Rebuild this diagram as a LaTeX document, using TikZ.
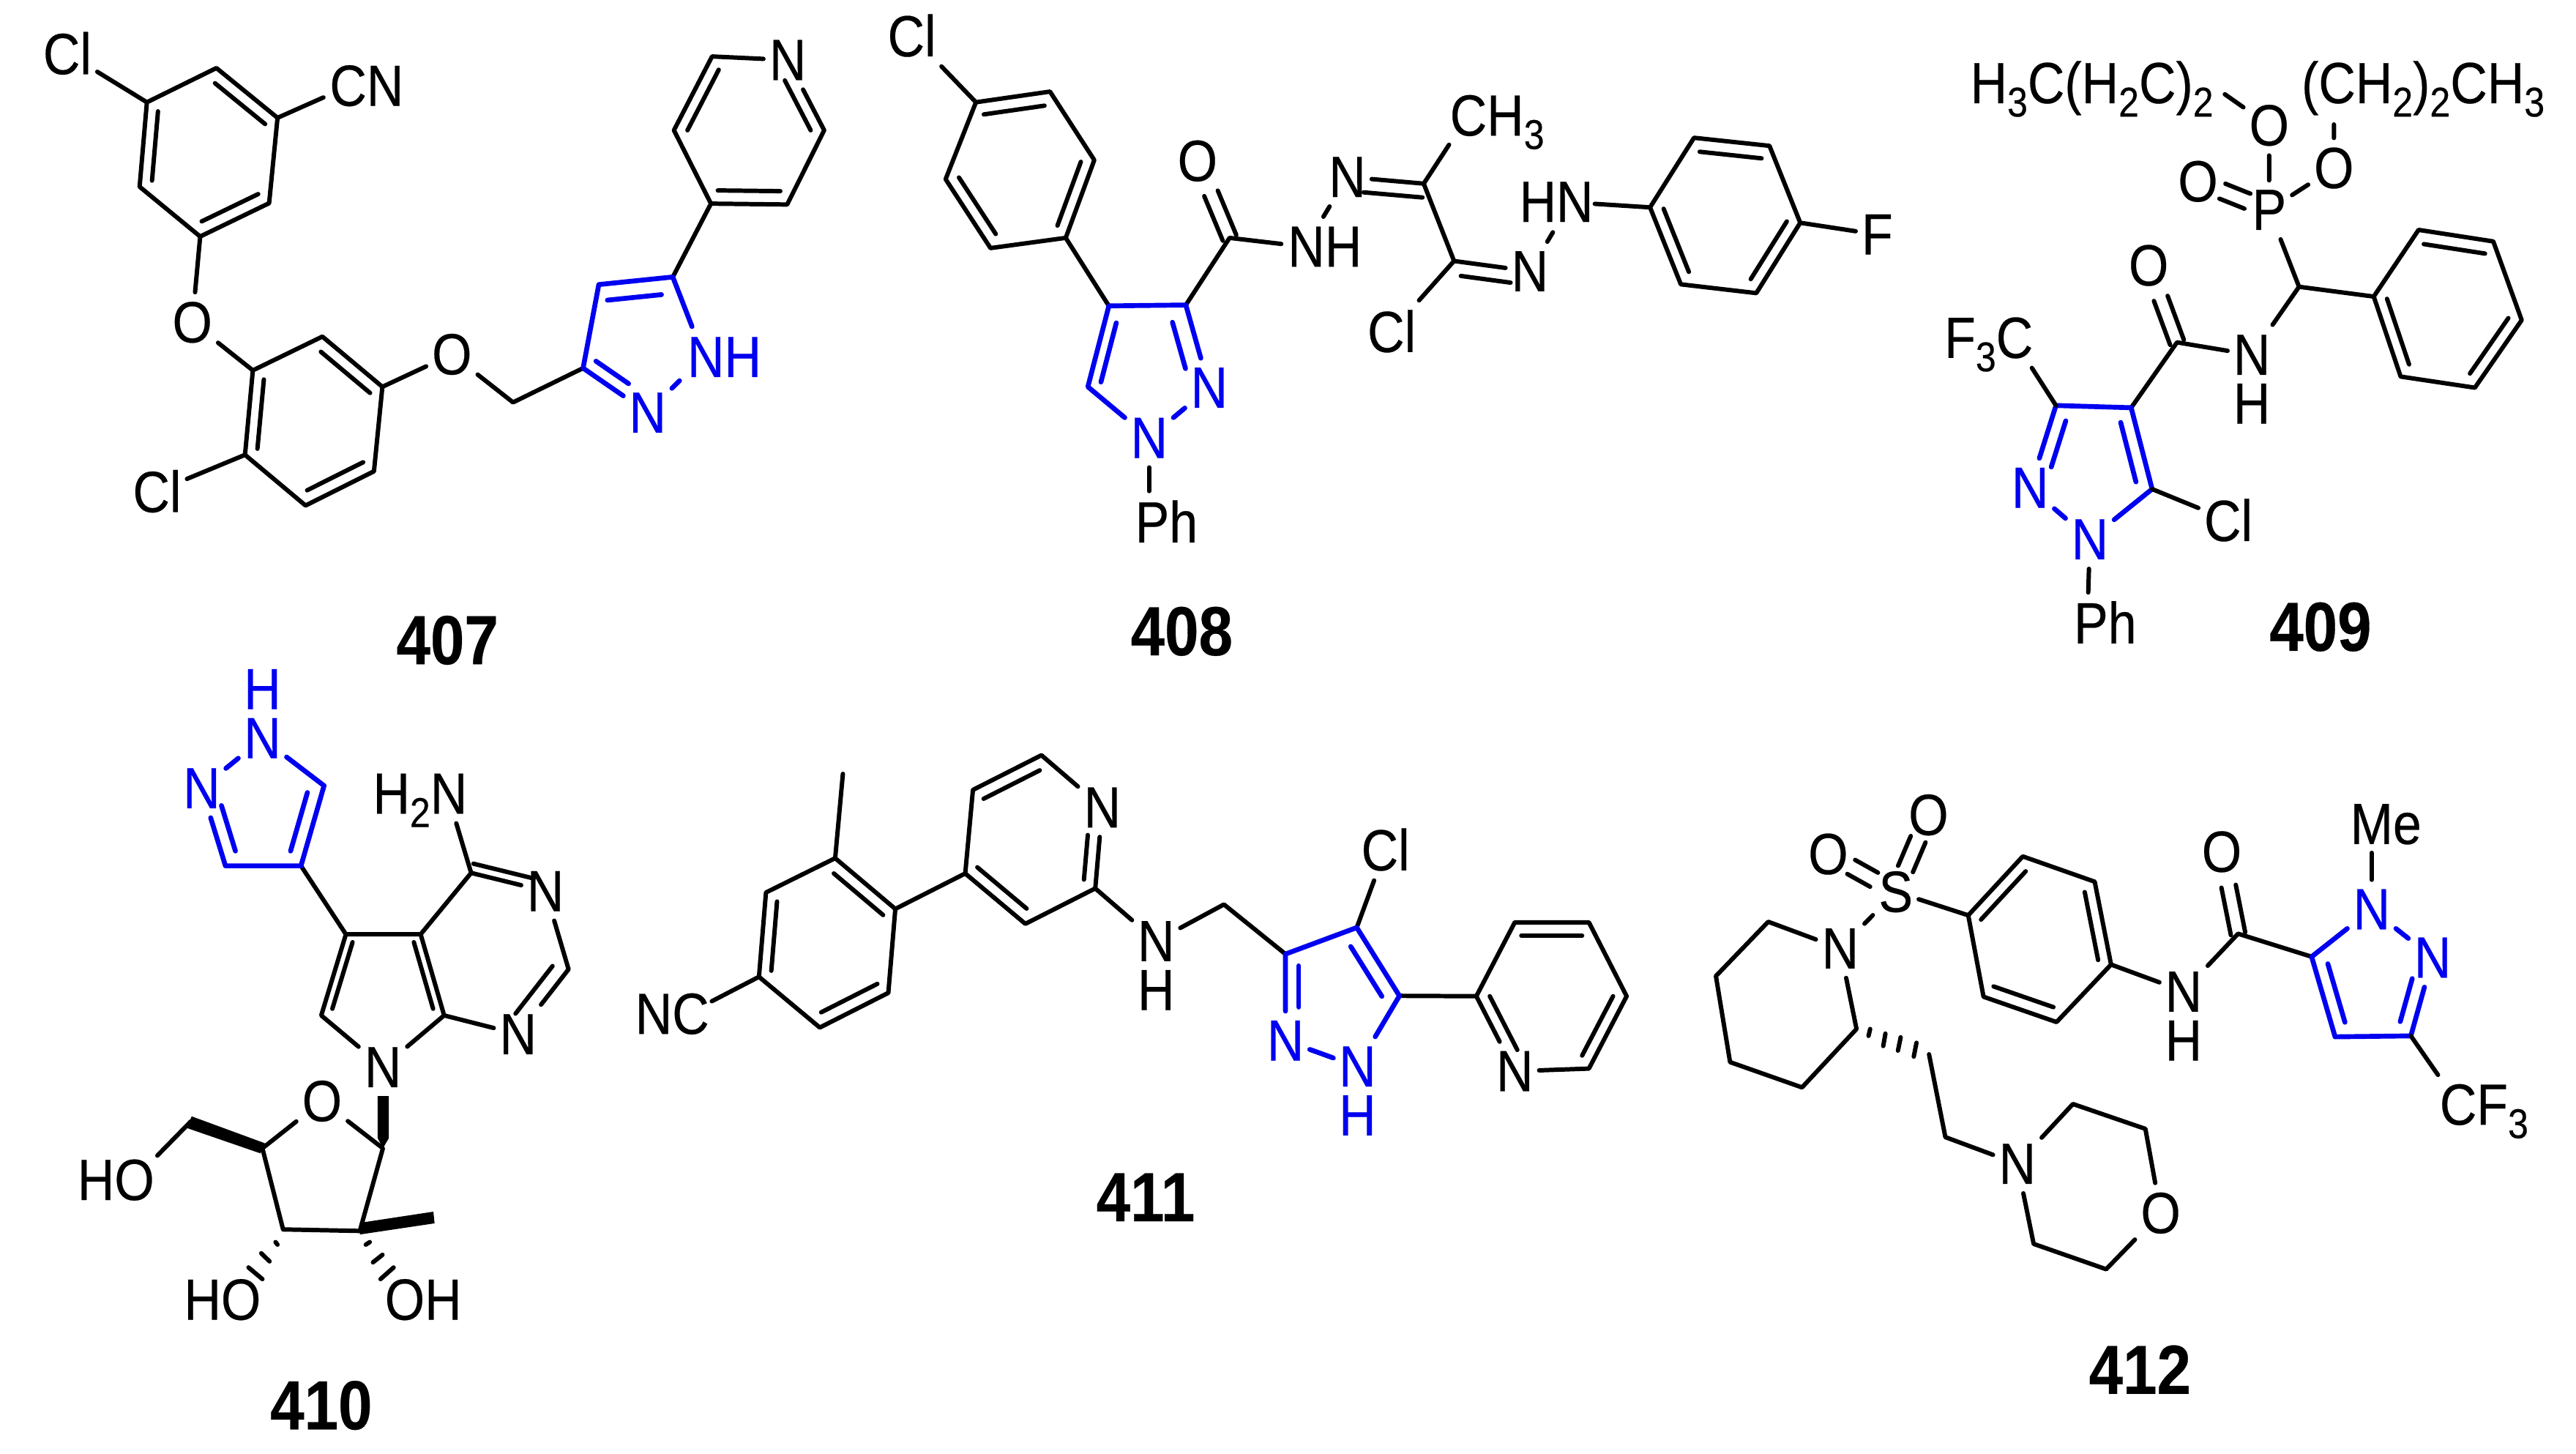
\documentclass[tikz,border=0pt]{standalone}
\usepackage{fontspec}
\setmainfont[FakeStretch=0.88,FakeBold=0.3]{Liberation Sans}
\usetikzlibrary{calc}
\definecolor{pz}{RGB}{0,0,240}
\newcommand\sbb[1]{\raisebox{-2.6pt}{\fontsize{8.1}{9}\selectfont #1}}
\def\rf{.18}
\newcommand\pts[1]{\foreach \n/\x/\y in {#1}{\coordinate (\n) at (\x,\y);}}
% inner line of a ring double bond: both ends drawn toward ring centre
\newcommand\rdbl[4][]{\draw[#1] ($(#2.center)!\rf!(#4)$) -- ($(#3.center)!\rf!(#4)$);}
% line parallel to a bond, at a signed offset
\newcommand\sdbl[4][]{\draw[#1] ($(#2.center)!#4!90:(#3.center)$) -- ($(#3.center)!#4!-90:(#2.center)$);}
\tikzset{
  mol/.style={line width=.85pt,line cap=round,line join=round},
  txt/.style={font=\fontsize{11.3}{13}\selectfont},
  atom/.style={txt,rectangle,inner xsep=.04cm,inner ysep=.065cm,outer sep=0},
  hit/.style={rectangle,minimum width=.33cm,minimum height=.41cm,inner sep=0,outer sep=0},
  lab/.style={txt,anchor=base west,inner sep=0,outer sep=0},
  stack/.style={font=\fontsize{11.3}{9.5}\selectfont,align=center,inner sep=0,outer sep=0},
  num/.style={font=\fontsize{13.5}{15}\selectfont\bfseries,inner sep=0},
  pyr/.style={color=pz,line width=.95pt},
  c1/.style={shift={(0cm,0cm)},x=.0038265cm,y=-.0030293cm},
  c2/.style={shift={(5.75cm,0cm)},x=.0039860cm,y=-.0030293cm},
  c3/.style={shift={(12.25cm,0cm)},x=.0034088cm,y=-.0030293cm},
  c4/.style={shift={(0cm,-4.5cm)},x=.0027105cm,y=-.0034630cm},
  c5/.style={shift={(4.1cm,-4.75cm)},x=.0047832cm,y=-.0025510cm},
  c6/.style={shift={(11.75cm,-5cm)},x=.0037277cm,y=-.0031441cm},
  c7/.style={x=.005cm,y=-.005cm}
}
\begin{document}
\begin{tikzpicture}[mol]
\useasboundingbox[fill=white] (0,0) rectangle (17.595,-9.93);
%% ---------- 407
\begin{scope}[c1]
\pts{a1/262/230,a2/386/153,a3/495/265,a4/480/457,a5/357/532,a6/249/420,ac/372/343,
     b1/451/833,b2/575/757,b3/682/870,b4/667/1060,b5/545/1137,b6/437/1023,bc/560/947,
     d0/915/905,p1/1040/828,p2/1068/640,p3/1200/623,pc/1125/770,
     q1/1268/458,q2/1202/293,q3/1270/127,q5/1470/293,q6/1404/460,qc/1336/293}
\node[atom] (cl1) at (120,120) {Cl};
\node[atom] (cl2) at (280,1105) {Cl};
\node[hit] (cn1) at (620,195) {};
\node[lab] at (588,238) {CN};
\node[atom] (o1) at (343,725) {O};
\node[atom] (o2) at (806,797) {O};
\node[atom] (npy) at (1405,135) {N};
\node[num] (n407) at (798,1440) {407};
\draw (cl1) -- (a1) -- (a2) -- (a3) -- (a4) -- (a5) -- (a6) -- (a1);
\draw (a3) -- (cn1);
\draw (a5) -- (o1) -- (b1) -- (b2) -- (b3) -- (b4) -- (b5) -- (b6) -- (b1);
\draw (b6) -- (cl2);
\draw (b3) -- (o2) -- (d0) -- (p1);
\rdbl{a1}{a6}{ac}\rdbl{a2}{a3}{ac}\rdbl{a4}{a5}{ac}
\rdbl{b1}{b6}{bc}\rdbl{b2}{b3}{bc}\rdbl{b4}{b5}{bc}
\draw (p3) -- (q1) -- (q2) -- (q3) -- (npy) -- (q5) -- (q6) -- (q1);
\rdbl{q2}{q3}{qc}\rdbl{q1}{q6}{qc}\rdbl[shorten >=.06cm]{q5}{npy}{qc}
\begin{scope}[pyr]
\node[hit] (pnh) at (1255,802) {};
\node[lab] at (1226,848) {NH};
\node[atom] (pn2) at (1155,928) {N};
\draw (p1) -- (p2) -- (p3) -- (pnh) -- (pn2) -- (p1);
\def\rf{.27}
\rdbl{p2}{p3}{pc}\rdbl[shorten >=.12cm]{p1}{pn2}{pc}
\end{scope}
\end{scope}
%% ---------- 408
\begin{scope}[c2]
\pts{e1/230/230,e2/357/206,e3/433/360,e4/384/535,e5/255/558,e6/178/403,ec/305/382,
     f1/458/688,f2/590/686,f3/422/870,fc/505/830,
     g1/665/535,g2/998/413,g3/1050/587}
\node[atom] (cl3) at (120,80) {Cl};
\node[hit] (ph1) at (527,1172) {};
\node[lab] at (503,1220) {Ph};
\node[atom] (o3) at (610,362) {O};
\node[hit] (nh1) at (795,555) {};
\node[lab] at (765,600) {NH};
\node[atom] (n1) at (867,398) {N};
\node[hit] (ch3a) at (1075,258) {};
\node[lab] at (1043,305) {CH\sbb{3}};
\node[atom] (n2) at (1180,610) {N};
\node[atom] (cl4) at (943,745) {Cl};
\node[hit] (nh2) at (1250,455) {};
\node[lab] at (1162,499) {HN};
\node[num] (n408) at (583,1420) {408};
\draw (cl3) -- (e1) -- (e2) -- (e3) -- (e4) -- (e5) -- (e6) -- (e1);
\rdbl{e1}{e2}{ec}\rdbl{e3}{e4}{ec}\rdbl{e5}{e6}{ec}
\draw (e4) -- (f1);
\draw (f2) -- (g1) -- (nh1) -- (n1) -- (g2) -- (g3) -- (n2) -- (nh2);
\draw (g2) -- (ch3a);
\draw (g3) -- (cl4);
\sdbl[shorten >=.12cm]{g2}{n1}{.095cm}
\sdbl[shorten <=.06cm,shorten >=.12cm]{g3}{n2}{-.095cm}
\sdbl[shorten >=.24cm]{g1}{o3}{.05cm}
\sdbl[shorten >=.24cm]{g1}{o3}{-.05cm}
\begin{scope}[pyr]
\node[atom] (fn2) at (630,872) {N};
\node[atom] (fn1) at (527,985) {N};
\draw (f1) -- (f2) -- (fn2) -- (fn1) -- (f3) -- (f1);
\def\rf{.27}
\rdbl{f1}{f3}{fc}\rdbl[shorten >=.1cm]{f2}{fn2}{fc}
\end{scope}
\draw (fn1) -- (ph1);
\end{scope}
\begin{scope}[c7]
\pts{h1/2252/283,h2/2312/188,h3/2415/199,h4/2457/304,h5/2397/400,h6/2294/388,hc/2355/294}
\node[atom] (f1a) at (2562,320) {F};
\draw (nh2) -- (h1) -- (h2) -- (h3) -- (h4) -- (h5) -- (h6) -- (h1);
\draw (h4) -- (f1a);
\rdbl{h1}{h6}{hc}\rdbl{h2}{h3}{hc}\rdbl{h4}{h5}{hc}
\end{scope}
%% ---------- 409
\begin{scope}[c3]
\pts{i1/1015/645,i2/1165/667,i3/1255/517,i4/1405/543,i5/1462/720,i6/1368/872,i7/1219/847,ic/1313/695,
     j1/770/770,j2/527/912,j3/678/917,j4/720/1100,jc/600/1040,k1/866/212,k2/1085/280}
\node[lab] at (355,232) {H\sbb{3}C(H\sbb{2}C)\sbb{2}};
\node[lab] at (1020,232) {(CH\sbb{2})\sbb{2}CH\sbb{3}};
\node[atom] (o4) at (955,282) {O};
\node[atom] (o5) at (1085,378) {O};
\node[atom] (p0) at (955,472) {P};
\node[atom] (o6) at (812,408) {O};
\node[hit] (n3) at (920,798) {};
\node[stack] at (920,853) {N\\H};
\node[atom] (o7) at (713,597) {O};
\node[hit] (f3c) at (440,760) {};
\node[lab] at (303,805) {F\sbb{3}C};
\node[atom] (cl5) at (873,1170) {Cl};
\node[hit] (ph2) at (590,1400) {};
\node[lab] at (563,1447) {Ph};
\node[num] (n409) at (1058,1410) {409};
\draw (k1) -- (o4) -- (p0) -- (o5) -- (k2);
\draw (p0) -- (i1) -- (n3) -- (j1) -- (j3);
\draw (i1) -- (i2) -- (i3) -- (i4) -- (i5) -- (i6) -- (i7) -- (i2);
\rdbl{i3}{i4}{ic}\rdbl{i5}{i6}{ic}\rdbl{i7}{i2}{ic}
\sdbl[shorten <=.16cm,shorten >=.18cm]{p0}{o6}{.055cm}
\sdbl[shorten <=.16cm,shorten >=.18cm]{p0}{o6}{-.055cm}
\sdbl[shorten >=.24cm]{j1}{o7}{.05cm}
\sdbl[shorten >=.24cm]{j1}{o7}{-.05cm}
\begin{scope}[pyr]
\node[atom] (jn2) at (475,1097) {N};
\node[atom] (jn1) at (595,1213) {N};
\draw (j2) -- (j3) -- (j4) -- (jn1) -- (jn2) -- (j2);
\def\rf{.27}
\rdbl{j3}{j4}{jc}\rdbl[shorten >=.1cm]{j2}{jn2}{jc}
\end{scope}
\draw (j2) -- (f3c);
\draw (j4) -- (cl5);
\draw (jn1) -- (ph2);
\end{scope}
%% ---------- 410
\begin{scope}[c4]
\pts{l1/815/250,l2/757/408,l3/567/408,lc/660/300,
     m1/870/543,m2/1058/543,m3/1117/703,m4/808/703,mc/963/630,
     m5/1185/422,m6/1430/612,
     s1/963/965,s2/660/965,s3/712/1125,s4/905/1128,s5/480/912}
\node[atom] (n6) at (1372,458) {N};
\node[atom] (n7) at (1303,740) {N};
\node[atom] (n8) at (963,805) {N};
\node[atom] (o8) at (810,872) {O};
\node[hit] (h2n) at (1125,265) {};
\node[lab] at (938,305) {H\sbb{2}N};
\node[hit] (ho1) at (335,1028) {};
\node[lab] at (195,1067) {HO};
\node[lab] (ho2) at (463,1303) {HO};
\node[lab] (oh1) at (968,1303) {OH};
\node[num] (n410) at (808,1472) {410};
\draw (l2) -- (m1) -- (m2) -- (m3) -- (n8) -- (m4) -- (m1);
\rdbl{m1}{m4}{mc}\rdbl{m2}{m3}{mc}
\draw (m2) -- (m5) -- (n6) -- (m6) -- (n7) -- (m3);
\draw (m5) -- (h2n);
\sdbl[shorten >=.1cm]{m5}{n6}{.065cm}
\sdbl[shorten >=.1cm,shorten <=.05cm]{m6}{n7}{-.1cm}
\draw (s2) -- (o8) -- (s1) -- (s4) -- (s3) -- (s2);
\draw (s5) -- (ho1);
\fill (950,862) -- (978,862) -- (978,945) -- (s1) -- (950,945) -- cycle;
\fill (482,902) -- (470,925) -- (655,975) -- (666,955) -- cycle;
\fill (905,1135) -- (1093,1113) -- (1090,1090) -- (905,1112) -- cycle;
\draw (693,1150) -- (698,1155);
\draw (657,1172) -- (678,1188);
\draw (625,1200) -- (660,1223);
\draw (920,1155) -- (930,1150);
\draw (938,1190) -- (962,1175);
\draw (957,1223) -- (990,1200);
\begin{scope}[pyr]
\node[hit] (n4) at (660,157) {};
\node[stack] at (660,108) {H\\N};
\node[atom] (n5) at (507,255) {N};
\draw (n4) -- (l1) -- (l2) -- (l3) -- (n5) -- (n4);
\def\rf{.27}
\rdbl{l1}{l2}{lc}\rdbl[shorten >=.08cm]{l3}{n5}{lc}
\end{scope}
\end{scope}
%% ---------- 411
\begin{scope}[c5]
\pts{u1/336/436,u2/422/572,u3/412/797,u4/314/890,u5/227/754,u6/237/528,uc/325/663,um/347/210,
     v1/522/477,v2/533/253,v3/631/160,v5/708/517,v6/608/612,vc/618/385,
     w0/892/560,w1/980/693,w2/1082/622,w3/1143/805,wc/1050/810,
     y1/1253/806,y2/1308/608,y3/1414/608,y4/1468/806,y5/1414/1000,yc/1360/806}
\node[hit] (nc1) at (125,853) {};
\node[lab] at (50,907) {NC};
\node[atom] (n9) at (718,300) {N};
\node[hit] (n10) at (795,658) {};
\node[stack] at (795,724) {N\\H};
\node[atom] (cl6) at (1123,413) {Cl};
\node[atom] (n13) at (1308,1007) {N};
\node[num] (n411) at (780,1345) {411};
\draw (um) -- (u1) -- (u2) -- (u3) -- (u4) -- (u5) -- (u6) -- (u1);
\rdbl{u1}{u2}{uc}\rdbl{u3}{u4}{uc}\rdbl{u5}{u6}{uc}
\draw (u5) -- (nc1);
\draw (u2) -- (v1) -- (v2) -- (v3) -- (n9) -- (v5) -- (v6) -- (v1);
\rdbl{v2}{v3}{vc}\rdbl[shorten >=.15cm]{v5}{n9}{vc}\rdbl{v1}{v6}{vc}
\draw (v5) -- (n10) -- (w0) -- (w1);
\draw (w2) -- (cl6);
\draw (w3) -- (y1) -- (y2) -- (y3) -- (y4) -- (y5) -- (n13) -- (y1);
\rdbl{y2}{y3}{yc}\rdbl{y4}{y5}{yc}\rdbl[shorten >=.06cm]{y1}{n13}{yc}
\begin{scope}[pyr]
\node[atom] (n11) at (980,925) {N};
\node[hit] (n12) at (1083,995) {};
\node[stack] at (1083,1060) {N\\H};
\draw (w1) -- (w2) -- (w3) -- (n12) -- (n11) -- (w1);
\def\rf{.27}
\rdbl{w2}{w3}{wc}\rdbl[shorten >=.15cm]{w1}{n11}{wc}
\end{scope}
\end{scope}
%% ---------- 412
\begin{scope}[c6]
\pts{r1/455/398,r2/555/270,r3/687/325,r4/717/505,r5/617/630,r6/483/575,rc/585/450,
     t0/950/438,t1/1085/488,t3/1267/660,t4/1128/662,tc/1195/545,
     z1/88/412,z2/-8/530,z3/18/717,z4/150/772,z5/250/645,z6/383/700,z7/413/880,
     x1/647/808,x2/780/862,x3/708/1167,x4/575/1112}
\node[atom] (s0) at (322,347) {S};
\node[atom] (o9) at (198,265) {O};
\node[atom] (o10) at (382,180) {O};
\node[atom] (n14) at (220,470) {N};
\node[hit] (n15) at (850,563) {};
\node[stack] at (850,617) {N\\H};
\node[atom] (o11) at (920,260) {O};
\node[hit] (me1) at (1195,197) {};
\node[lab] at (1156,243) {Me};
\node[hit] (cf1) at (1355,810) {};
\node[lab] at (1320,853) {CF\sbb{3}};
\node[atom] (n16) at (545,938) {N};
\node[atom] (o12) at (808,1045) {O};
\node[num] (n412) at (770,1385) {412};
\draw (n14) -- (s0) -- (r1) -- (r2) -- (r3) -- (r4) -- (r5) -- (r6) -- (r1);
\rdbl{r1}{r2}{rc}\rdbl{r3}{r4}{rc}\rdbl{r5}{r6}{rc}
\draw (r4) -- (n15) -- (t0) -- (t1);
\sdbl[shorten <=.17cm,shorten >=.18cm]{s0}{o9}{.055cm}
\sdbl[shorten <=.17cm,shorten >=.18cm]{s0}{o9}{-.055cm}
\sdbl[shorten <=.17cm,shorten >=.18cm]{s0}{o10}{.055cm}
\sdbl[shorten <=.17cm,shorten >=.18cm]{s0}{o10}{-.055cm}
\sdbl[shorten >=.24cm]{t0}{o11}{.05cm}
\sdbl[shorten >=.24cm]{t0}{o11}{-.05cm}
\draw (n14) -- (z1) -- (z2) -- (z3) -- (z4) -- (z5) -- (n14);
\draw (z6) -- (z7) -- (n16) -- (x1) -- (x2) -- (o12) -- (x3) -- (x4) -- (n16);
\draw (275,645) -- (272,660);
\draw (303,655) -- (299,682);
\draw (331,663) -- (326,692);
\draw (360,675) -- (355,705);
\begin{scope}[pyr]
\node[atom] (n17) at (1195,385) {N};
\node[atom] (n18) at (1307,490) {N};
\draw (t1) -- (n17) -- (n18) -- (t3) -- (t4) -- (t1);
\def\rf{.27}
\rdbl{t1}{t4}{tc}\rdbl[shorten <=.1cm]{n18}{t3}{tc}
\end{scope}
\draw (n17) -- (me1);
\draw (t3) -- (cf1);
\end{scope}
\end{tikzpicture}
\end{document}
